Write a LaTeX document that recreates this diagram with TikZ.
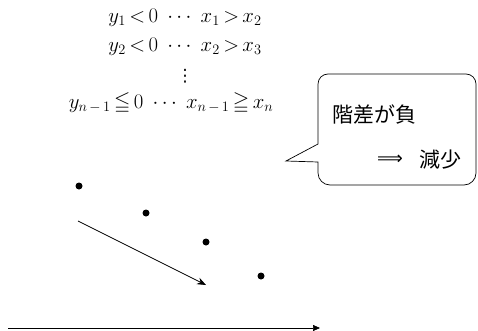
\documentclass[tikz,border=0pt]{standalone}
\usepackage{amsmath,amssymb}
\usepackage{fontspec}
\newfontfamily\jp{Noto Sans CJK JP}
\newfontfamily\dv{DejaVu Sans}
\usetikzlibrary{arrows.meta}
\newcommand{\rl}[1]{\mathrel{\mkern-2mu#1\mkern-2mu}}
\begin{document}
\begin{tikzpicture}[x=1pt,y=-1pt,
  mathline/.style={inner sep=0pt,font=\fontsize{21}{24}\selectfont},
  jptext/.style={inner sep=0pt,font=\fontsize{21}{24}\selectfont\jp},
  pt/.style={circle,fill=black,inner sep=0pt,minimum size=7pt},
  line/.style={line width=0.7pt}]
\useasboundingbox (0,0) rectangle (478,331);
% equations
\node[mathline] (l1) at (185,18) {$y_1\rl{<}0 \;\cdots\; x_1\rl{>}x_2$};
\node[mathline] (l2) at (185,47) {$y_2\rl{<}0 \;\cdots\; x_2\rl{>}x_3$};
\node[inner sep=0pt,font=\fontsize{17}{17}\selectfont\dv] (l3) at (185,76) {⋮};
\node[mathline] (l4) at (171,103) {$y_{n\,-\,1}\rl{\leqq} 0 \;\cdots\; x_{n\,-\,1}\rl{\geqq} x_n$};
% callout
\draw[line] (318,144) -- (318,84) arc[start angle=180,end angle=270,radius=10] -- (466,74)
  arc[start angle=270,end angle=360,radius=10] -- (476,173)
  arc[start angle=0,end angle=90,radius=12] -- (330,185)
  arc[start angle=90,end angle=180,radius=12] -- (318,162) -- (286,161) -- cycle;
\node[jptext,anchor=west] (t1) at (332,114) {階差が負};
\node[inner sep=0pt,font=\fontsize{18}{21}\selectfont\dv,anchor=west] (t2) at (377,160) {⟹};
\node[jptext,anchor=west] (t3) at (419,160) {減少};
% points
\node[pt] (p1) at (79,186) {};
\node[pt] (p2) at (146,213) {};
\node[pt] (p3) at (206,242) {};
\node[pt] (p4) at (261,276) {};
\coordinate (a1) at (78,221);
\coordinate (a2) at (206,285);
\draw[line,-{Stealth[length=9pt,width=7pt,inset=3pt]}] (a1) -- (a2);
\coordinate (x0) at (8,328);
\coordinate (x1) at (320,328);
\draw[line,-{Triangle[length=7pt,width=6pt]}] (x0) -- (x1);
\end{tikzpicture}
\end{document}
